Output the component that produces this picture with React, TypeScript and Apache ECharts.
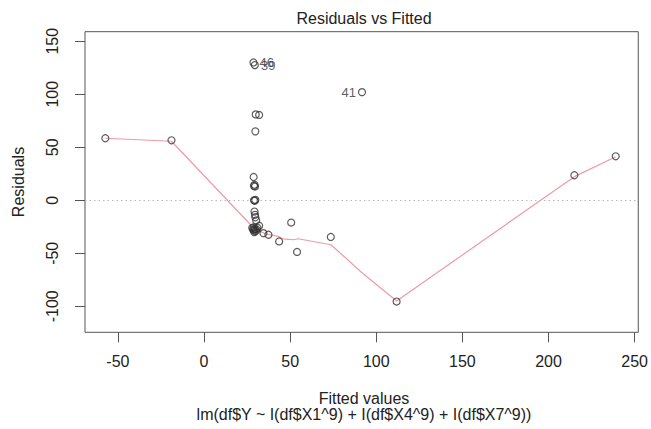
import React, { useEffect, useRef } from 'react';
import * as echarts from 'echarts';

// Fitted values (x) and residuals (y)
const fittedValues = [
  -57.3, -18.9, 30.0, 32.0, 29.8, 28.8, 29.0, 29.3, 29.6, 29.0, 29.4, 29.8,
  29.3, 29.6, 29.8, 30.3, 28.0, 28.5, 29.0, 29.5, 30.0, 28.8, 29.2, 30.5, 31.0,
  32.0, 34.5, 37.4, 43.6, 50.6, 54.0, 73.6, 111.8, 215.0, 239.0,
];
const residuals = [
  58.5, 56.6, 81.0, 80.5, 65.0, 22.0, 13.5, 14.6, 13.0, 0.0, -0.5, 0.4,
  -10.6, -13.7, -16.0, -19.0, -26.0, -27.5, -28.5, -27.0, -29.0, -25.5, -30.0, -27.5, -26.0,
  -24.0, -31.0, -32.5, -38.8, -21.0, -48.7, -34.6, -95.5, 23.6, 41.5,
];

// The three most extreme residuals, labelled by observation number
const labelledFitted = [28.7, 29.5, 91.7];
const labelledResiduals = [130.0, 127.5, 102.0];
const labelledIds = ['46', '39', '41'];

// Red smoother through the residuals
const smootherX = [-57.3, -18.9, 27.6, 29.6, 31.0, 33.4, 36.0, 43.2, 46.0, 51.8, 54.7, 73.7, 91.7, 111.8, 215.0, 239.0];
const smootherY = [58.5, 55.7, -24.0, -26.5, -28.3, -29.9, -31.8, -34.1, -36.3, -37.2, -36.3, -41.9, -68.3, -95.0, 22.3, 41.0];

const xTicks = [-50, 0, 50, 100, 150, 200, 250];
const yTicks = [-100, -50, 0, 50, 100, 150];

const FONT = '"Liberation Sans", Arial, sans-serif';
const TEXT = '#222';
const AXIS = '#555';

export default function App() {
  const ref = useRef<HTMLDivElement>(null);

  useEffect(() => {
    if (!ref.current) return;
    const chart = echarts.init(ref.current, undefined, { renderer: 'svg' });

    const allX = fittedValues.concat(labelledFitted);
    const midX = (Math.min(...allX) + Math.max(...allX)) / 2;

    const pointData: any[] = fittedValues.map((x, i) => [x, residuals[i]]);
    labelledFitted.forEach((x, i) => {
      pointData.push({
        value: [x, labelledResiduals[i]],
        label: {
          show: true,
          formatter: labelledIds[i],
          position: x > midX ? 'left' : 'right',
          distance: 2,
          fontSize: 13,
          fontFamily: FONT,
          color: '#333',
        },
      });
    });

    const textStyle = (size: number) => ({
      fill: TEXT,
      font: `${size}px "Liberation Sans", Arial, sans-serif`,
      textAlign: 'center',
      align: 'center',
      textVerticalAlign: 'middle',
      verticalAlign: 'middle',
    });

    chart.setOption({
      animation: false,
      backgroundColor: '#fff',
      grid: {
        left: 85,
        right: 8.3,
        top: 31.7,
        bottom: 96.7,
        show: true,
        borderColor: AXIS,
        borderWidth: 1,
        backgroundColor: 'transparent',
      },
      xAxis: {
        type: 'value',
        min: -69.1,
        max: 252.1,
        splitLine: { show: false },
        axisLine: { show: false, onZero: false },
        axisTick: { show: true, length: 10, inside: false, customValues: xTicks, lineStyle: { color: AXIS } },
        axisLabel: { customValues: xTicks, margin: 21, fontSize: 16, fontFamily: FONT, color: TEXT },
      },
      yAxis: {
        type: 'value',
        min: -124.5,
        max: 159,
        splitLine: { show: false },
        axisLine: { show: false, onZero: false },
        axisTick: { show: true, length: 10, inside: false, customValues: yTicks, lineStyle: { color: AXIS } },
        axisLabel: { customValues: yTicks, rotate: 90, margin: 25, fontSize: 16, fontFamily: FONT, color: TEXT },
      },
      graphic: [
        { type: 'text', x: 364, y: 18, style: { text: 'Residuals vs Fitted', ...textStyle(16) } },
        { type: 'text', x: 364, y: 398, style: { text: 'Fitted values', ...textStyle(16) } },
        {
          type: 'text',
          x: 364,
          y: 414,
          style: { text: 'lm(df$Y ~ I(df$X1^9) + I(df$X4^9) + I(df$X7^9))', ...textStyle(16) },
        },
        { type: 'text', x: 18, y: 182, rotation: Math.PI / 2, style: { text: 'Residuals', ...textStyle(16) } },
      ],
      series: [
        {
          type: 'line',
          data: smootherX.map((x, i) => [x, smootherY[i]]),
          showSymbol: false,
          symbol: 'none',
          lineStyle: { color: '#ef9aa5', width: 1.2 },
          z: 2,
          silent: true,
          markLine: {
            silent: true,
            symbol: ['none', 'none'],
            label: { show: false },
            lineStyle: { color: '#b8b8b8', width: 1, type: [1.5, 3] },
            data: [{ yAxis: 0 }],
          },
        },
        {
          type: 'scatter',
          data: pointData,
          symbol: 'circle',
          symbolSize: 7,
          itemStyle: { color: 'rgba(255,255,255,0)', borderColor: '#333', borderWidth: 1.2 },
          z: 3,
        },
      ],
    });

    return () => chart.dispose();
  }, []);

  return <div ref={ref} style={{ position: 'fixed', left: 0, top: 0, width: 651, height: 429 }} />;
}
